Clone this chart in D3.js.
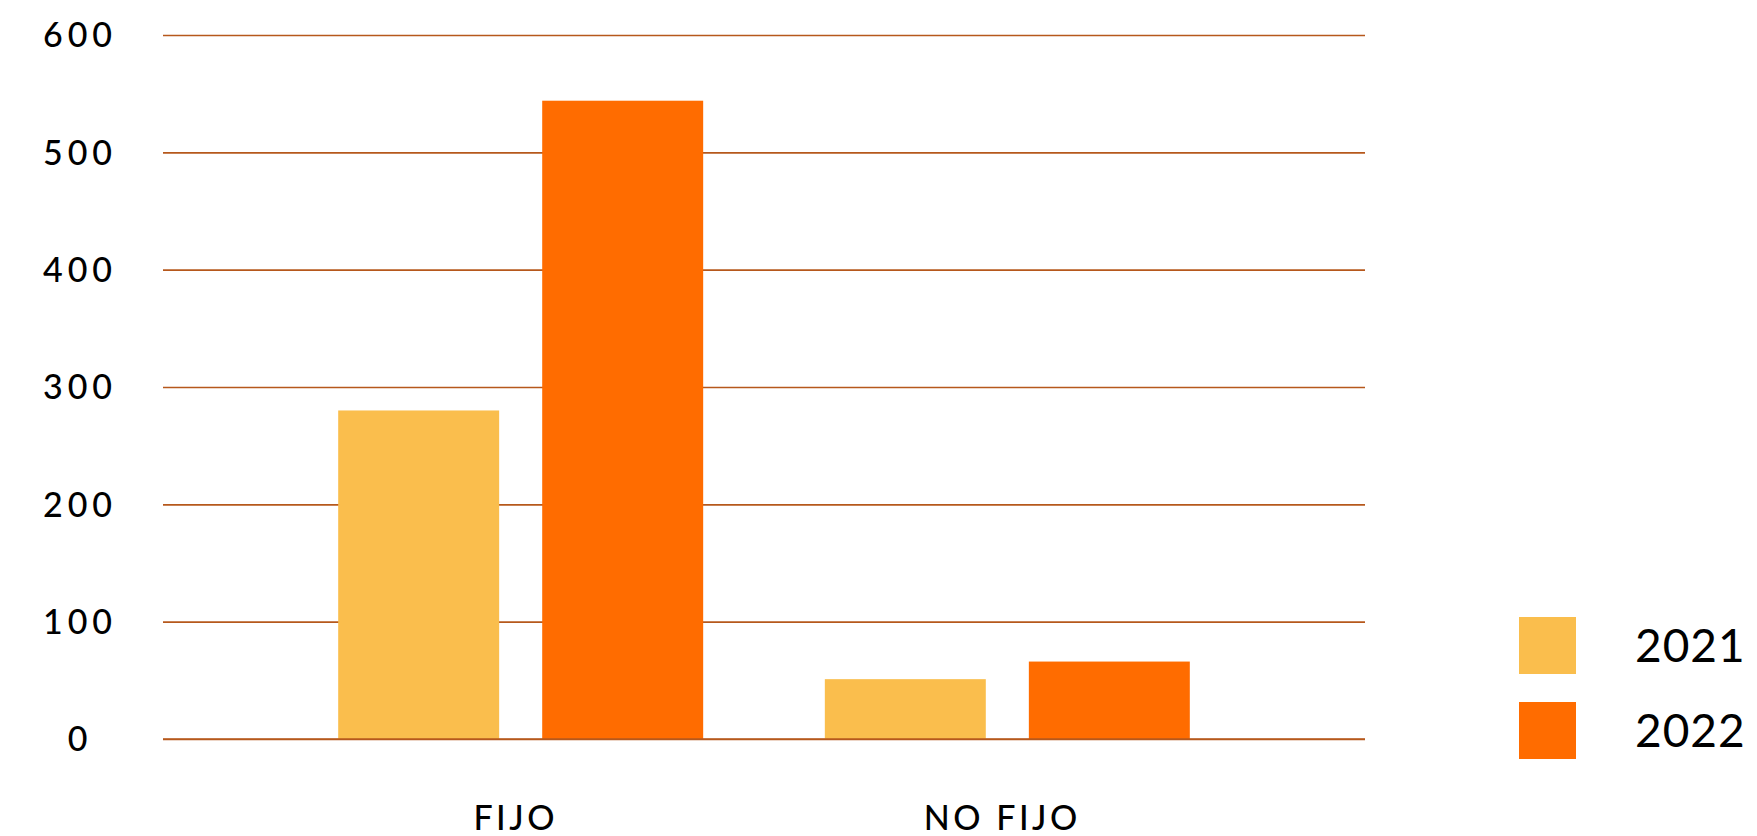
<!DOCTYPE html>
<html><head><meta charset="utf-8">
<script src="https://cdn.jsdelivr.net/npm/d3@7/dist/d3.min.js"></script>
<style>html,body{margin:0;padding:0;background:#fff;}svg{display:block;}</style>
</head><body>
<svg id="chart" width="1757" height="836"></svg>
<script>
const categories = ["FIJO", "NO FIJO"];
const seriesNames = ["2021", "2022"];
const values2021 = [280, 51];
const values2022 = [544, 66];
const yTicks = [0, 100, 200, 300, 400, 500, 600];
const colors = ["#FABE4D", "#FF6C00"];

(function () {
const seriesValues = [values2021, values2022];
const svg = d3.select("#chart");
const font = "Lato, 'Noto Sans', sans-serif";

const mLeft = 163, mRight = 1365, mTop = 35, mBottom = 739;
const y = d3.scaleLinear().domain([0, 600]).range([mBottom, mTop]);
const x0 = d3.scaleBand().domain(categories).range([mLeft, mRight]).paddingInner(0.25).paddingOuter(0.36);
const x1 = d3.scaleBand().domain(seriesNames).range([0, x0.bandwidth()]).paddingInner(0.211).paddingOuter(0);

// gridlines
const yAxis = d3.axisLeft(y).tickValues(yTicks).tickSize(-(mRight - mLeft)).tickFormat(d3.format("d"));
const ga = svg.append("g").attr("transform", `translate(${mLeft},0)`).call(yAxis);
ga.select(".domain").remove();
ga.selectAll(".tick line").attr("stroke", "#B6581C").attr("stroke-width", 1.6);
ga.selectAll(".tick text")
  .attr("x", 80 - mLeft).attr("text-anchor", "middle").attr("dy", "0.35em")
  .attr("fill", "#000").style("font-family", font).style("font-size", "34px").style("font-weight", 500)
  .style("letter-spacing", "5px");

// bars
const groups = svg.append("g").selectAll("g").data(categories).join("g")
  .attr("transform", d => `translate(${x0(d)},0)`);
groups.selectAll("rect")
  .data((c, i) => seriesNames.map((s, j) => ({s, v: seriesValues[j][i], j})))
  .join("rect")
  .attr("x", d => x1(d.s)).attr("width", x1.bandwidth())
  .attr("y", d => y(d.v)).attr("height", d => mBottom - y(d.v))
  .attr("fill", d => colors[d.j]);

// baseline over bars
svg.append("line").attr("x1", mLeft).attr("x2", mRight).attr("y1", y(0)).attr("y2", y(0))
  .attr("stroke", "#B6581C").attr("stroke-width", 1.6);

// x labels
const xAxis = d3.axisBottom(x0).tickSize(0);
const gx = svg.append("g").attr("transform", `translate(0,${mBottom})`).call(xAxis);
gx.select(".domain").remove();
gx.selectAll(".tick text").attr("x", -5).attr("y", 79).attr("dy", "0.35em")
  .attr("fill", "#000").style("font-family", font).style("font-size", "34px").style("font-weight", 500)
  .style("letter-spacing", "3.5px")
  .attr("text-anchor", "middle");

// legend
const legend = svg.append("g").selectAll("g").data(seriesNames).join("g")
  .attr("transform", (d, i) => `translate(1519,${617 + i * 85})`);
legend.append("rect").attr("width", 57).attr("height", 57).attr("fill", (d, i) => colors[i]);
legend.append("text").attr("x", 116).attr("y", 29).attr("dy", "0.35em").text(d => d)
  .attr("fill", "#000").style("font-family", font).style("font-size", "46px").style("font-weight", 400)
  .style("letter-spacing", "1px");
})();
</script>
</body></html>
